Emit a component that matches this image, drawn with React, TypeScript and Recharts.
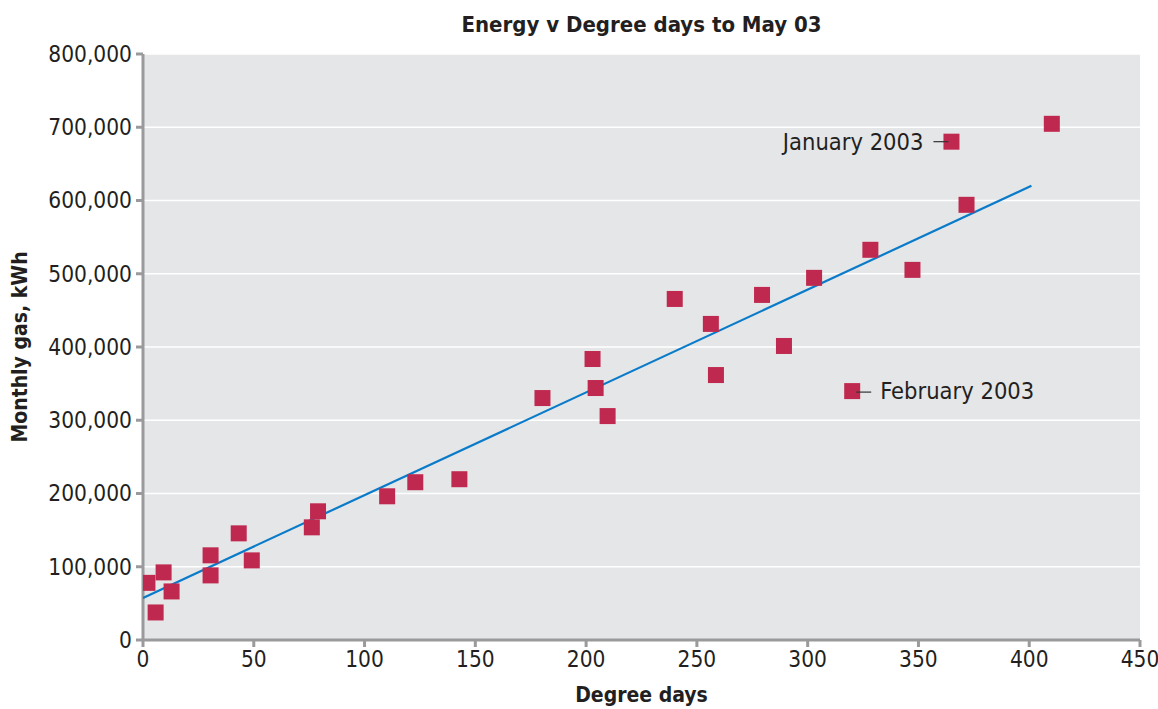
import React from 'react';
import { ScatterChart, Scatter, XAxis, YAxis, CartesianGrid } from 'recharts';

const degreeDays = [2, 5.7, 9.3, 12.9, 30.5, 30.5, 43.2, 49.1, 76.2, 79.0, 110.2, 122.9, 142.8, 180.3, 202.9, 204.3, 209.7, 240.0, 256.3, 258.6, 279.4, 289.3, 302.9, 328.3, 347.3, 364.9, 371.7, 410.2, 320.1];
const gasKWh = [78000, 37600, 92300, 66300, 115600, 88200, 145600, 108700, 153800, 175700, 196200, 215400, 219500, 330300, 383600, 344000, 305700, 465600, 431500, 361700, 471100, 401400, 494400, 532700, 505300, 680300, 594100, 704700, 339800];
const notes = ['', '', '', '', '', '', '', '', '', '', '', '', '', '', '', '', '', '', '', '', '', '', '', '', '', 'January 2003', '', '', 'February 2003'];
const noteSide = ['', '', '', '', '', '', '', '', '', '', '', '', '', '', '', '', '', '', '', '', '', '', '', '', '', 'left', '', '', 'right'];

const trendX = [0, 401];
const trendY = [57500, 620000];

const xTicks = [0, 50, 100, 150, 200, 250, 300, 350, 400, 450];
const yTicks = [0, 100000, 200000, 300000, 400000, 500000, 600000, 700000, 800000];

const points = degreeDays.map((x, i) => ({ x, y: gasKWh[i], note: notes[i], side: noteSide[i] }));
const trend = trendX.map((x, i) => ({ x, y: trendY[i] }));

const FONT = '"DejaVu Sans Condensed", "DejaVu Sans", sans-serif';
const TEXT = '#231f20';
const AXIS = '#9a9a9c';

const Marker = (props: any) => {
  const { cx, cy, payload } = props;
  const s = 16;
  return (
    <g>
      <rect x={cx - s / 2} y={cy - s / 2} width={s} height={s} fill="#c0294f" />
      {payload.note && payload.side === 'left' ? (
        <g>
          <line x1={cx - 18} y1={cy} x2={cx - 3} y2={cy} stroke="#333" strokeWidth={1.2} />
          <text x={cx - 28} y={cy} dy="0.35em" textAnchor="end" fontFamily={FONT} fontSize={23.5} fill={TEXT} style={{ fontStretch: 'condensed' }}>{payload.note}</text>
        </g>
      ) : null}
      {payload.note && payload.side === 'right' ? (
        <g>
          <line x1={cx + 4} y1={cy + 1} x2={cx + 19} y2={cy + 1} stroke="#333" strokeWidth={1.2} />
          <text x={cx + 28} y={cy} dy="0.35em" textAnchor="start" fontFamily={FONT} fontSize={23.5} fill={TEXT} style={{ fontStretch: 'condensed' }}>{payload.note}</text>
        </g>
      ) : null}
    </g>
  );
};

const NoShape = () => <g />;

const fmt = (v: number) => v.toLocaleString('en-US');

export default function App() {
  return (
    <div style={{ position: 'absolute', left: 0, top: 0, width: 1158, height: 709, background: '#fff', fontFamily: FONT, fontStretch: 'condensed' }}>
      <ScatterChart width={1158} height={709} margin={{ top: 54, right: 18, bottom: 29, left: 43 }}>
        <CartesianGrid vertical={false} stroke="#ffffff" strokeWidth={1.5} fill="#e5e6e8" />
        <XAxis
          type="number"
          dataKey="x"
          domain={[0, 450]}
          ticks={xTicks}
          interval={0}
          height={40}
          axisLine={{ stroke: AXIS, strokeWidth: 3 }}
          tickLine={{ stroke: AXIS, strokeWidth: 3 }}
          tickSize={7}
          tickMargin={4}
          tick={{ fill: TEXT, fontSize: 22.5, fontFamily: FONT, style: { fontStretch: 'condensed' } }}
          allowDataOverflow
        />
        <YAxis
          type="number"
          dataKey="y"
          domain={[0, 800000]}
          ticks={yTicks}
          interval={0}
          width={100}
          axisLine={{ stroke: AXIS, strokeWidth: 3 }}
          tickLine={{ stroke: AXIS, strokeWidth: 3 }}
          tickSize={7}
          tickMargin={4}
          tickFormatter={fmt}
          tick={{ fill: TEXT, fontSize: 22.5, fontFamily: FONT, style: { fontStretch: 'condensed' } }}
          allowDataOverflow
        />
        <Scatter data={trend} line={{ stroke: '#0a7bc9', strokeWidth: 2.2 }} shape={<NoShape />} isAnimationActive={false} />
        <Scatter data={points} shape={<Marker />} isAnimationActive={false} />
      </ScatterChart>
      <div style={{ position: 'absolute', left: 143, width: 997, top: 12, textAlign: 'center', fontWeight: 'bold', fontSize: 22, color: TEXT, lineHeight: '26px' }}>
        Energy v Degree days to May 03
      </div>
      <div style={{ position: 'absolute', left: 143, width: 997, top: 681, textAlign: 'center', fontWeight: 'bold', fontSize: 21, color: TEXT, lineHeight: '28px' }}>
        Degree days
      </div>
      <div style={{ position: 'absolute', left: 20, top: 347, width: 0, height: 0 }}>
        <div style={{ position: 'absolute', left: 0, top: 0, transform: 'translate(-50%, -50%) rotate(-90deg)', whiteSpace: 'nowrap', fontWeight: 'bold', fontSize: 21, color: TEXT, lineHeight: '28px' }}>
          Monthly gas, kWh
        </div>
      </div>
    </div>
  );
}
